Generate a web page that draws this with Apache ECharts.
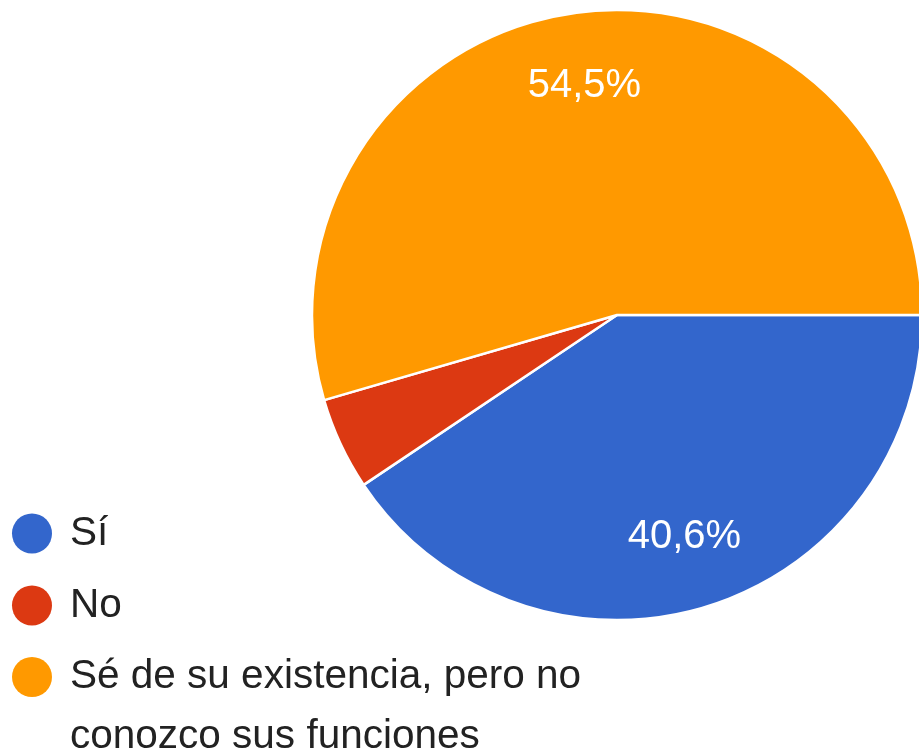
<!DOCTYPE html>
<html>
<head>
<meta charset="utf-8">
<title>Pie</title>
<script src="https://cdn.jsdelivr.net/npm/echarts@6/dist/echarts.min.js"></script>
<style>
  html, body { margin: 0; padding: 0; background: #ffffff; }
  #chart { width: 919px; height: 753px; }
</style>
</head>
<body>
<div id="chart"></div>
<script>
// respuestas
const categories = ["Sí", "No", "Sé de su existencia, pero no conozco sus funciones"];
const values = [40.6, 4.9, 54.5];
const colors = ["#3366cc", "#dc3912", "#ff9900"];

const fontFamily = "'Liberation Sans', Arial, sans-serif";

const pieData = categories.map((name, i) => ({
  name: name,
  value: values[i],
  itemStyle: { color: colors[i] }
}));

const chart = echarts.init(document.getElementById("chart"));

let option = {
  animation: false,
  legend: [
    {
      // Sí / No
      data: categories.slice(0, 2),
      orient: "vertical",
      left: 12,
      top: 513,
      padding: 0,
      itemWidth: 40,
      itemHeight: 40,
      itemGap: 31,
      icon: "circle",
      selectedMode: false,
      itemStyle: { borderWidth: 0 },
      textStyle: {
        fontFamily: fontFamily,
        fontSize: 40.5,
        lineHeight: 40,
        padding: [0, 0, 0, 13],
        color: "#222222"
      }
    },
    {
      // texto largo en dos lineas (linea vacia arriba para alinear con el icono)
      data: categories.slice(2),
      orient: "vertical",
      left: 12,
      top: 587,
      padding: 0,
      itemWidth: 40,
      itemHeight: 40,
      icon: "circle",
      selectedMode: false,
      itemStyle: { borderWidth: 0 },
      formatter: function (name) {
        return " \n" + name.replace(" conozco", "\nconozco");
      },
      textStyle: {
        fontFamily: fontFamily,
        fontSize: 40.5,
        lineHeight: 60,
        padding: [0, 0, 0, 13],
        color: "#222222"
      }
    }
  ],
  series: [
    {
      name: "Respuestas",
      type: "pie",
      center: [617, 315],
      radius: 305,
      startAngle: 0,
      clockwise: true,
      avoidLabelOverlap: false,
      itemStyle: { borderColor: "#ffffff", borderWidth: 2.5 },
      label: { show: false },
      labelLine: { show: false },
      emphasis: { disabled: true },
      data: pieData
    },
    {
      // solo etiquetas (a 3/4 del radio)
      name: "Etiquetas",
      type: "pie",
      center: [617, 315],
      radius: [152.5, 305],
      startAngle: 0,
      clockwise: true,
      silent: true,
      avoidLabelOverlap: false,
      itemStyle: { color: "rgba(0,0,0,0)", borderWidth: 0 },
      label: {
        show: true,
        position: "inside",
        fontFamily: fontFamily,
        fontSize: 40,
        color: "#ffffff",
        formatter: function (p) {
          if (p.percent < 5) return "";
          return p.percent.toFixed(1).replace(".", ",") + "%";
        }
      },
      labelLine: { show: false },
      emphasis: { disabled: true },
      data: categories.map((name, i) => ({ name: name, value: values[i] }))
    }
  ]
};

chart.setOption(option);
</script>
</body>
</html>
